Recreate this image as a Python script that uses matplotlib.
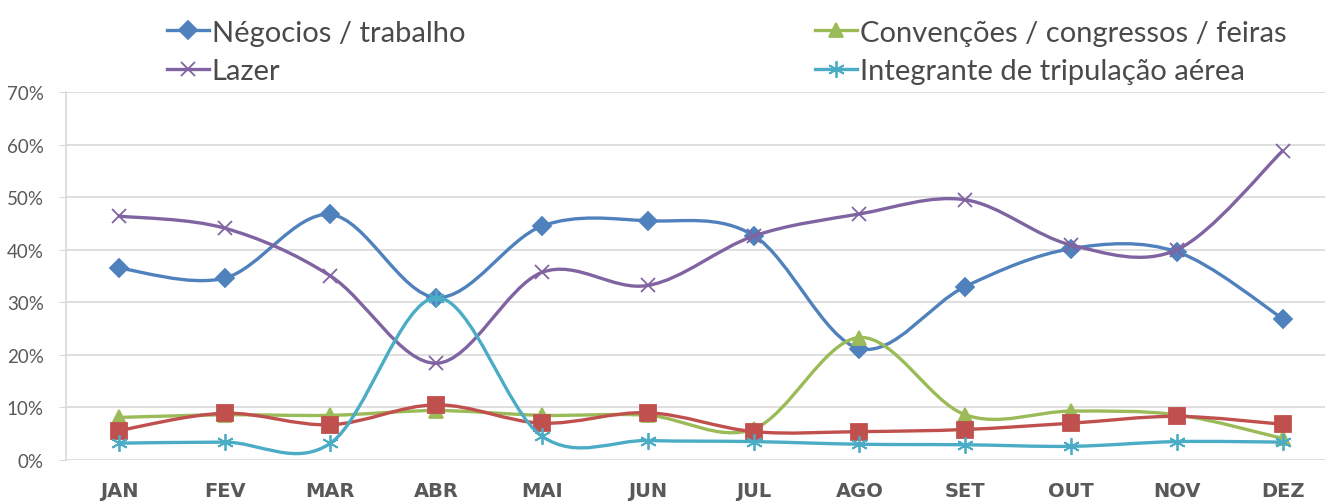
import matplotlib
matplotlib.use("Agg")
import matplotlib.pyplot as plt
from matplotlib.path import Path
from matplotlib.patches import PathPatch
from matplotlib.lines import Line2D
from matplotlib.ticker import PercentFormatter

plt.rcParams["font.family"] = ["Lato", "DejaVu Sans"]

months = ["JAN", "FEV", "MAR", "ABR", "MAI", "JUN", "JUL", "AGO", "SET", "OUT", "NOV", "DEZ"]

negocios = [36.5, 34.6, 46.7, 30.9, 44.5, 45.5, 42.7, 21.2, 33.0, 40.2, 39.6, 26.9]
convencoes = [8.1, 8.6, 8.5, 9.4, 8.5, 8.5, 5.9, 23.3, 8.6, 9.3, 8.6, 4.1]
lazer = [46.4, 44.1, 35.0, 18.4, 35.7, 33.2, 42.6, 46.8, 49.5, 40.9, 40.0, 58.8]
tripulacao = [3.2, 3.4, 3.2, 30.9, 4.5, 3.7, 3.5, 3.0, 2.9, 2.6, 3.5, 3.4]
outros = [5.6, 8.9, 6.7, 10.5, 7.0, 9.0, 5.4, 5.4, 5.8, 7.0, 8.3, 6.8]


def smooth_path(ys):
    # Excel-style smoothed line: cubic Bezier segments (Catmull-Rom tangents)
    pts = list(enumerate(ys))
    n = len(pts)
    verts = [pts[0]]
    codes = [Path.MOVETO]
    for i in range(n - 1):
        p0 = pts[max(i - 1, 0)]
        p1 = pts[i]
        p2 = pts[i + 1]
        p3 = pts[min(i + 2, n - 1)]
        c1 = (p1[0] + (p2[0] - p0[0]) / 6, p1[1] + (p2[1] - p0[1]) / 6)
        c2 = (p2[0] - (p3[0] - p1[0]) / 6, p2[1] - (p3[1] - p1[1]) / 6)
        verts += [c1, c2, p2]
        codes += [Path.CURVE4] * 3
    return Path(verts, codes)


fig = plt.figure(figsize=(13.25, 5.02), dpi=100)
ax = fig.add_axes([66 / 1325, 41 / 502, (1325 - 66) / 1325, 368 / 502])

series = [
    (negocios, "#4F81BD", "D", 9, "Négocios / trabalho", 2),
    (convencoes, "#9BBB59", "^", 10, "Convenções / congressos / feiras", 3),
    (outros, "#C0504D", "s", 11, None, 4),
    (lazer, "#8064A2", "x", 10, "Lazer", 5),
    (tripulacao, "#4BACC6", (6, 2, 0), 12, "Integrante de tripulação aérea", 6),
]

handles = {}
for ys, color, marker, ms, label, z in series:
    ax.add_patch(PathPatch(smooth_path(ys), fill=False, edgecolor=color,
                           lw=2.4, zorder=z, capstyle="round"))
    ax.plot(range(len(ys)), ys, linestyle="none", marker=marker, ms=ms,
            color=color, mec=color, mew=1.3, zorder=z)
    if label:
        handles[label] = Line2D([], [], color=color, lw=2.4, marker=marker,
                                ms=ms, mec=color, mew=1.3)

ax.set_xlim(-0.5, 11.4)
ax.set_ylim(0, 70)
ax.set_yticks(range(0, 71, 10))
ax.yaxis.set_major_formatter(PercentFormatter(decimals=0))
ax.set_xticks(range(12))
ax.set_xticklabels(months, fontweight="bold", family="DejaVu Sans")
ax.grid(axis="y", color="#D9D9D9", lw=1.2)
ax.set_axisbelow(True)
for s in ["top", "right", "bottom"]:
    ax.spines[s].set_visible(False)
ax.spines["left"].set_color("#D9D9D9")
ax.spines["left"].set_linewidth(1.2)
ax.tick_params(axis="y", colors="#595959", labelsize=13.5, length=5,
               color="#D9D9D9", pad=11)
ax.tick_params(axis="x", colors="#595959", labelsize=14, length=0, pad=15)

leg_kw = dict(frameon=False, fontsize=21, handlelength=1.45, handletextpad=0.1,
              labelspacing=0.42, labelcolor="#4a4a4a", borderaxespad=0)
fig.legend([handles["Négocios / trabalho"], handles["Lazer"]],
           ["Négocios / trabalho", "Lazer"], loc="upper left",
           bbox_to_anchor=(155 / 1325, 1 - 9 / 502), **leg_kw)
fig.legend([handles["Convenções / congressos / feiras"], handles["Integrante de tripulação aérea"]],
           ["Convenções / congressos / feiras", "Integrante de tripulação aérea"],
           loc="upper left", bbox_to_anchor=(803 / 1325, 1 - 9 / 502), **leg_kw)

fig.savefig("out.png", dpi=100)
